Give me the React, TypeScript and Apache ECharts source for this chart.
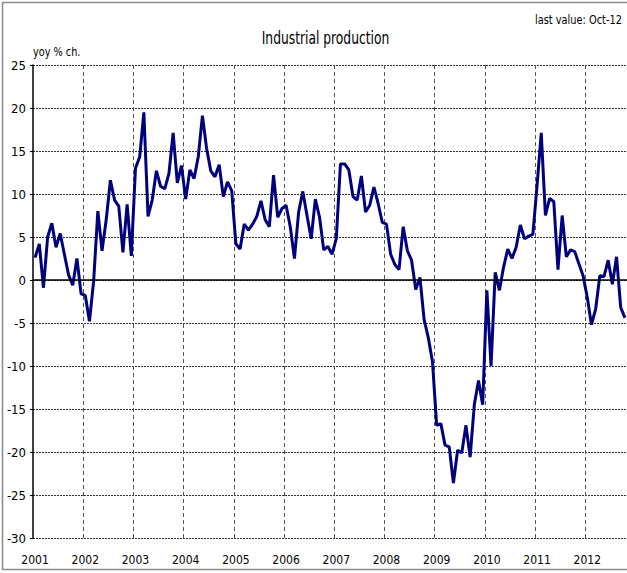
import React, { useEffect, useRef } from "react";
import * as echarts from "echarts";

const years = ["2001", "2002", "2003", "2004", "2005", "2006", "2007", "2008", "2009", "2010", "2011", "2012"];

const v2001 = [2.6, 4.2, -0.9, 5.0, 6.6, 3.8, 5.4, 3.0, 0.6, -0.6, 2.5, -1.6];
const v2002 = [-1.8, -4.8, -0.1, 8.0, 3.4, 7.0, 11.6, 9.3, 8.6, 3.2, 8.8, 2.8];
const v2003 = [13.0, 14.3, 19.5, 7.4, 9.3, 12.7, 10.9, 10.6, 12.4, 17.1, 11.3, 13.3];
const v2004 = [9.4, 12.8, 11.8, 14.3, 19.1, 15.3, 12.7, 12.0, 13.4, 9.7, 11.4, 10.4];
const v2005 = [4.2, 3.6, 6.5, 5.8, 6.5, 7.4, 9.2, 7.0, 6.2, 12.2, 7.3, 8.3];
const v2006 = [8.7, 6.2, 2.5, 7.9, 10.3, 7.5, 4.8, 9.4, 7.3, 3.5, 3.9, 3.0];
const v2007 = [4.8, 13.5, 13.5, 12.8, 9.7, 9.3, 12.1, 7.9, 8.7, 10.8, 8.9, 6.7];
const v2008 = [6.5, 3.0, 1.8, 1.2, 6.2, 3.4, 2.3, -1.1, 0.3, -4.6, -6.7, -9.5];
const v2009 = [-16.9, -16.7, -19.2, -19.4, -23.6, -19.8, -20.1, -16.9, -20.6, -14.5, -11.7, -14.5];
const v2010 = [-1.2, -10.0, 0.9, -1.2, 1.5, 3.6, 2.5, 3.8, 6.4, 4.8, 5.1, 5.3];
const v2011 = [11.0, 17.1, 7.5, 9.5, 9.1, 1.2, 7.5, 2.7, 3.5, 3.3, 1.9, 0.5];
const v2012 = [-2.0, -5.2, -3.4, 0.5, 0.4, 2.3, -0.5, 2.7, -3.2, -4.4];

const yearValues = [v2001, v2002, v2003, v2004, v2005, v2006, v2007, v2008, v2009, v2010, v2011, v2012];

const FONT = "'Liberation Sans Narrow', 'DejaVu Sans Condensed', 'Arial Narrow', sans-serif";

export default function App() {
  const ref = useRef<HTMLDivElement>(null);

  useEffect(() => {
    document.body.style.margin = "0";
    if (!ref.current) return;
    const chart = echarts.init(ref.current, null, { renderer: "svg" });

    const categories: string[] = [];
    const values: number[] = [];
    yearValues.forEach((arr, yi) => {
      arr.forEach((v, mi) => {
        categories.push(years[yi] + "-" + (mi + 1));
        values.push(v);
      });
    });

    chart.setOption({
      animation: false,
      backgroundColor: "#ffffff",
      textStyle: { fontFamily: FONT },
      graphic: [
        {
          type: "rect",
          shape: { x: 2.5, y: 2.5, width: 660, height: 567 },
          style: { fill: "none", stroke: "#8c8c8c", lineWidth: 1.5 },
          silent: true,
        },
        {
          type: "text",
          x: 325.5,
          y: 29,
          scaleX: 0.76,
          style: {
            text: "Industrial production",
            font: "18px " + FONT,
            fill: "#000",
            textAlign: "center",
            textVerticalAlign: "top",
          },
        },
        {
          type: "text",
          x: 622,
          y: 13,
          scaleX: 0.84,
          style: {
            text: "last value: Oct-12",
            font: "13px " + FONT,
            fill: "#000",
            textAlign: "right",
            textVerticalAlign: "top",
          },
        },
        {
          type: "text",
          x: 33,
          y: 46,
          scaleX: 0.9,
          style: { text: "yoy % ch.", font: "12px " + FONT, fill: "#000", textVerticalAlign: "top" },
        },
      ],
      grid: { left: 33, top: 65, width: 595, height: 473, containLabel: false },
      xAxis: {
        type: "category",
        data: categories,
        boundaryGap: true,
        axisLine: { show: false },
        axisTick: { show: false },
        axisLabel: {
          interval: (i: number) => i % 12 === 0,
          formatter: (val: string) => val.split("-")[0],
          fontSize: 12,
          fontFamily: FONT,
          color: "#000",
          margin: 16,
        },
        splitLine: {
          show: true,
          interval: (i: number) => i % 12 === 0 && i > 0,
          lineStyle: { color: "#555", type: [4, 3], width: 1 },
        },
      },
      yAxis: {
        type: "value",
        min: -30,
        max: 25,
        interval: 5,
        axisLine: { show: true, lineStyle: { color: "#000", width: 1.5 } },
        axisTick: { show: true, length: 3, inside: false, lineStyle: { color: "#000" } },
        axisLabel: { fontSize: 13, fontFamily: FONT, color: "#000", margin: 7 },
        splitLine: { show: true, lineStyle: { color: "#333", type: [2, 1], width: 1 } },
      },
      series: [
        {
          type: "line",
          data: values,
          showSymbol: false,
          symbol: "none",
          lineStyle: { color: "#00007f", width: 3 },
          markLine: {
            silent: true,
            symbol: "none",
            label: { show: false },
            lineStyle: { color: "#000", type: "solid", width: 1.5 },
            data: [{ yAxis: 0 }],
          },
          z: 3,
        },
      ],
    });

    return () => chart.dispose();
  }, []);

  return <div ref={ref} style={{ width: 627, height: 573 }} />;
}
